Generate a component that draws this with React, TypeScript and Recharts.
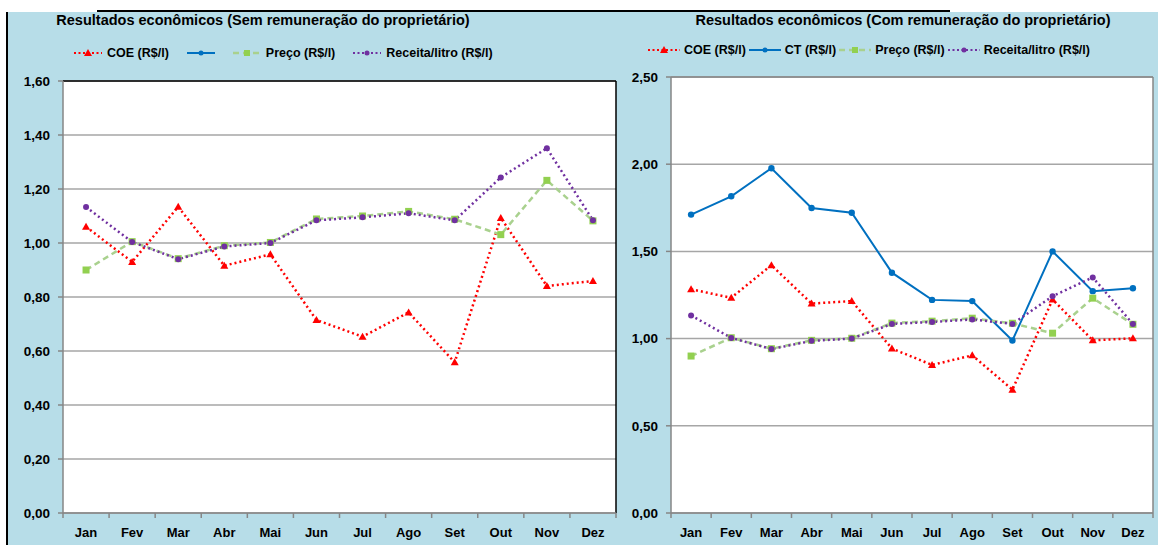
import React from 'react'
import { LineChart, Line, XAxis, YAxis, CartesianGrid, ReferenceLine } from 'recharts'

const MESES = ['Jan', 'Fev', 'Mar', 'Abr', 'Mai', 'Jun', 'Jul', 'Ago', 'Set', 'Out', 'Nov', 'Dez']

// sem remuneração do proprietário
const COE_SEM = [1.06, 0.93, 1.134, 0.916, 0.958, 0.715, 0.653, 0.743, 0.558, 1.093, 0.841, 0.859]
// com remuneração do proprietário
const COE_COM = [1.283, 1.234, 1.421, 1.201, 1.215, 0.943, 0.849, 0.904, 0.707, 1.224, 0.99, 1.002]
const CT_COM = [1.711, 1.816, 1.977, 1.749, 1.722, 1.378, 1.222, 1.215, 0.989, 1.5, 1.272, 1.289]
// iguais nos dois gráficos
const PRECO = [0.9, 1.005, 0.942, 0.99, 1.002, 1.089, 1.1, 1.117, 1.088, 1.031, 1.232, 1.082]
const RECEITA = [1.133, 1.004, 0.94, 0.987, 1.0, 1.084, 1.095, 1.11, 1.084, 1.243, 1.351, 1.084]

const TICKS_SEM = [0, 0.2, 0.4, 0.6, 0.8, 1.0, 1.2, 1.4, 1.6]
const TICKS_COM = [0, 0.5, 1.0, 1.5, 2.0, 2.5]

const TITULO_SEM = 'Resultados econômicos (Sem remuneração do proprietário)'
const TITULO_COM = 'Resultados econômicos (Com remuneração do proprietário)'

const FONTE = '"Liberation Sans", Arial, sans-serif'
const CORES = { coe: '#FF0000', ct: '#0070C0', preco: '#92D050', precoLinha: '#A9D18E', receita: '#7030A0' }
const EIXO = '#868686'

const fmt = (v: number) => v.toFixed(2).replace('.', ',')

function Triangulo(p: any) {
  const { cx, cy } = p
  if (cx == null || cy == null) return <g key={p.key} />
  return <path key={p.key} d={`M${cx},${cy - 4} L${cx + 4},${cy + 3} L${cx - 4},${cy + 3} Z`} fill={CORES.coe} />
}
function Quadrado(p: any) {
  const { cx, cy } = p
  if (cx == null || cy == null) return <g key={p.key} />
  return <rect key={p.key} x={cx - 3.5} y={cy - 3.5} width={7} height={7} fill={CORES.preco} />
}
function Bolinha(cor: string, r: number) {
  return (p: any) => {
    const { cx, cy } = p
    if (cx == null || cy == null) return <g key={p.key} />
    return <circle key={p.key} cx={cx} cy={cy} r={r} fill={cor} />
  }
}

// rótulo do mês + marquinha na divisa esquerda (e direita no último)
function TickMes(p: any) {
  const { x, y, payload, width, index } = p
  const meio = width / MESES.length / 2
  const y0 = y - 15
  return (
    <g>
      <line x1={x - meio} y1={y0} x2={x - meio} y2={y0 + 5} stroke={EIXO} strokeWidth={1.5} />
      {index === MESES.length - 1 && <line x1={x + meio} y1={y0} x2={x + meio} y2={y0 + 5} stroke={EIXO} strokeWidth={1.5} />}
      <text x={x} y={y} dy="0.71em" textAnchor="middle" fill="#000" fontSize={13} fontWeight="bold" fontFamily={FONTE}>
        {MESES[payload.value]}
      </text>
    </g>
  )
}

type ItemLegenda = { nome: string; cor: string; dash?: string; largura: number; marca: 'tri' | 'circ' | 'quad' }

function Simbolo({ item, w }: { item: ItemLegenda; w: number }) {
  const m = w / 2
  return (
    <svg width={w} height={10} style={{ display: 'block' }}>
      <line x1={0} y1={5} x2={w} y2={5} stroke={item.cor} strokeWidth={item.largura} strokeDasharray={item.dash} />
      {item.marca === 'tri' && <path d={`M${m},1 L${m + 4},8 L${m - 4},8 Z`} fill={CORES.coe} />}
      {item.marca === 'quad' && <rect x={m - 3} y={2} width={6} height={6} fill={CORES.preco} />}
      {item.marca === 'circ' && <circle cx={m} cy={5} r={2.5} fill={item.cor} />}
    </svg>
  )
}

function Legenda({ itens, x, y, w, gapTexto, gapItem }: { itens: ItemLegenda[]; x: number; y: number; w: number; gapTexto: number; gapItem: number }) {
  return (
    <div style={{ position: 'absolute', left: x, top: y, display: 'flex', alignItems: 'center', gap: gapItem, fontFamily: FONTE, fontWeight: 'bold', fontSize: 12.5, color: '#000', whiteSpace: 'nowrap' }}>
      {itens.map((it, i) => (
        <div key={i} style={{ display: 'flex', alignItems: 'center', gap: gapTexto }}>
          <Simbolo item={it} w={w} />
          {it.nome && <span>{it.nome}</span>}
        </div>
      ))}
    </div>
  )
}

const legCOE: ItemLegenda = { nome: 'COE (R$/l)', cor: CORES.coe, dash: '2 2.5', largura: 2.2, marca: 'tri' }
const legPreco: ItemLegenda = { nome: 'Preço (R$/l)', cor: CORES.precoLinha, dash: '6 4', largura: 2.5, marca: 'quad' }
const legReceita: ItemLegenda = { nome: 'Receita/litro (R$/l)', cor: CORES.receita, dash: '2 2.5', largura: 2.2, marca: 'circ' }

interface GraficoProps {
  left: number
  width: number
  top: number
  yWidth: number
  direita: number
  yMax: number
  ticks: number[]
  coe: number[]
  ct?: number[]
  corBorda: string
}

function Grafico({ left, width, top, yWidth, direita, yMax, ticks, coe, ct, corBorda }: GraficoProps) {
  const dados = MESES.map((mes, i) => ({ i, mes, coe: coe[i], ct: ct ? ct[i] : null, preco: PRECO[i], receita: RECEITA[i] }))
  return (
    <div style={{ position: 'absolute', left, top: 0 }}>
      <LineChart width={width} height={545} data={dados} margin={{ top, right: direita, left: 0, bottom: 2 }}>
        <CartesianGrid vertical={false} stroke="#A6A6A6" strokeWidth={1.5} fill="#FFFFFF" fillOpacity={1} />
        <XAxis
          type="number"
          dataKey="i"
          domain={[-0.5, MESES.length - 0.5]}
          ticks={MESES.map((_, i) => i)}
          interval={0}
          tickLine={false}
          axisLine={{ stroke: EIXO, strokeWidth: 1.5 }}
          tick={TickMes}
          tickMargin={9}
          height={30}
        />
        <YAxis
          type="number"
          domain={[0, yMax]}
          ticks={ticks}
          interval={0}
          width={yWidth}
          tickFormatter={fmt}
          tick={{ fill: '#000', fontSize: 13.5, fontWeight: 'bold', fontFamily: FONTE }}
          tickLine={{ stroke: EIXO, strokeWidth: 1.5 }}
          tickSize={5}
          tickMargin={8}
          axisLine={{ stroke: EIXO, strokeWidth: 1.5 }}
        />
        <ReferenceLine y={yMax} stroke={corBorda} strokeWidth={1.5} />
        <ReferenceLine x={MESES.length - 0.5} stroke={corBorda} strokeWidth={1.5} />
        <Line dataKey="coe" stroke={CORES.coe} strokeWidth={2.5} strokeDasharray="2 3" dot={Triangulo} activeDot={false} isAnimationActive={false} />
        {ct && (
          <Line dataKey="ct" stroke={CORES.ct} strokeWidth={2} dot={Bolinha(CORES.ct, 3.2)} activeDot={false} isAnimationActive={false} />
        )}
        <Line dataKey="preco" stroke={CORES.precoLinha} strokeWidth={2.5} strokeDasharray="6 4" dot={Quadrado} activeDot={false} isAnimationActive={false} />
        <Line dataKey="receita" stroke={CORES.receita} strokeWidth={2.5} strokeDasharray="2 3" dot={Bolinha(CORES.receita, 3)} activeDot={false} isAnimationActive={false} />
      </LineChart>
    </div>
  )
}

export default function App() {
  const titulo: React.CSSProperties = { position: 'absolute', top: 12, fontFamily: FONTE, fontWeight: 'bold', fontSize: 14.5, color: '#000', whiteSpace: 'nowrap', transform: 'translateX(-50%)' }
  return (
    <div style={{ position: 'relative', width: 1158, height: 545, background: '#fff', overflow: 'hidden' }}>
      <style>{'body{margin:0}'}</style>
      <div style={{ position: 'absolute', left: 8, top: 12, width: 1150, height: 533, background: '#B7DDE8' }} />
      <div style={{ position: 'absolute', left: 97, top: 10, width: 853, height: 2, background: '#000' }} />
      <div style={{ position: 'absolute', left: 6, top: 12, width: 2, height: 533, background: '#000' }} />

      <Grafico left={0} width={620} top={81} yWidth={63} direita={4} yMax={1.6} ticks={TICKS_SEM} coe={COE_SEM} corBorda="#000" />
      <Grafico left={620} width={538} top={77} yWidth={51} direita={5} yMax={2.5} ticks={TICKS_COM} coe={COE_COM} ct={CT_COM} corBorda="#868686" />

      <div style={{ ...titulo, left: 263 }}>{TITULO_SEM}</div>
      <div style={{ ...titulo, left: 903 }}>{TITULO_COM}</div>

      <Legenda
        x={74}
        y={46}
        w={28}
        gapTexto={5}
        gapItem={18}
        itens={[legCOE, { nome: '', cor: CORES.ct, largura: 2, marca: 'circ' }, legPreco, legReceita]}
      />
      <Legenda
        x={648}
        y={43}
        w={32}
        gapTexto={4}
        gapItem={3}
        itens={[legCOE, { nome: 'CT (R$/l)', cor: CORES.ct, largura: 2, marca: 'circ' }, legPreco, legReceita]}
      />
    </div>
  )
}
